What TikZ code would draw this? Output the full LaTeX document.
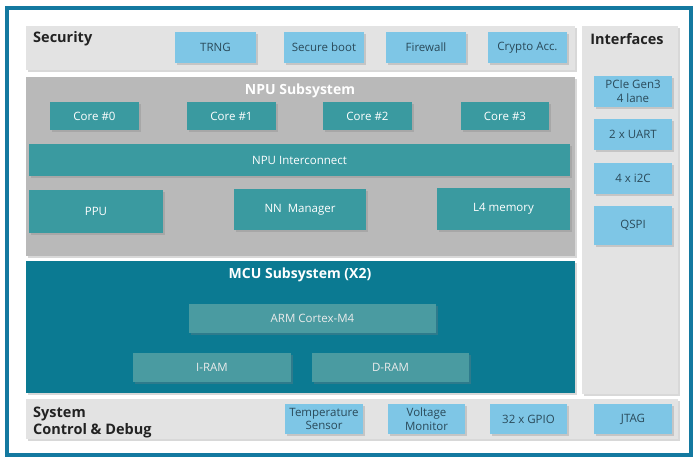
\documentclass[tikz,border=0pt]{standalone}
\usepackage{fontspec}
\setmainfont{Open Sans}
\usetikzlibrary{shadows}
\definecolor{frameblue}{HTML}{1479A0}
\definecolor{panelgray}{HTML}{E3E3E3}
\definecolor{npugray}{HTML}{B9B9B9}
\definecolor{mcuteal}{HTML}{0B7A92}
\definecolor{tealbox}{HTML}{3A9AA0}
\definecolor{mcubox}{HTML}{4A9BA1}
\definecolor{lightblue}{HTML}{7EC6E6}
\definecolor{bluetext}{HTML}{2A4A5A}
\definecolor{titletext}{HTML}{222222}
\tikzset{
  shd/.style={drop shadow={opacity=0.3,shadow xshift=1.5pt,shadow yshift=-1.5pt}},
  panel/.style={rectangle,inner sep=0pt,shd},
  boxfont/.style={font=\fontsize{11.5}{13.5}\selectfont},
  lbbox/.style={rectangle,inner sep=0pt,fill=lightblue,shd,text=bluetext,boxfont,align=center},
  tbox/.style={rectangle,inner sep=0pt,fill=tealbox,shd,text=white,boxfont,align=center},
  mbox/.style={rectangle,inner sep=0pt,fill=mcubox,shd,text=white!92!black,boxfont,align=center},
  ttl/.style={font=\bfseries\fontsize{14.5}{16}\selectfont,text=titletext,inner sep=0pt},
  wttl/.style={font=\bfseries\fontsize{14}{16}\selectfont,text=white,inner sep=0pt},
}
\begin{document}
\begin{tikzpicture}[x=1pt,y=-1pt]
\useasboundingbox (0,0) rectangle (700,461);
\fill[white] (0,0) rectangle (700,461);
% outer frame
\node[rectangle,draw=frameblue,line width=3.5pt,minimum width=684pt,minimum height=447pt,inner sep=0pt] (frame) at (349,231.5) {};
% panels
\node[panel,fill=panelgray,minimum width=549pt,minimum height=44pt] (secp) at (300.5,48) {};
\node[panel,fill=panelgray,minimum width=96pt,minimum height=368pt] (ifp) at (630,210) {};
\node[panel,fill=npugray,minimum width=549pt,minimum height=179pt] (npup) at (300.5,166.5) {};
\node[panel,fill=mcuteal,minimum width=549pt,minimum height=132pt] (mcup) at (300.5,327) {};
\node[panel,fill=panelgray,minimum width=652pt,minimum height=40pt] (sysp) at (352,419) {};
% titles
\node[ttl,anchor=west] (sect) at (33,39) {Security};
\node[ttl] (ift) at (627,39) {Interfaces};
\node[wttl] (nput) at (300,90.5) {NPU Subsystem};
\node[wttl] (mcut) at (300,274.5) {MCU Subsystem (X2)};
\node[ttl,anchor=west,align=left,font=\bfseries\fontsize{14.5}{17}\selectfont] (syst) at (33,422) {System\\Control \& Debug};
% security
\node[lbbox,minimum width=81pt,minimum height=31pt] (trng) at (215.5,47.5) {TRNG};
\node[lbbox,minimum width=80pt,minimum height=31pt] (sboot) at (324,47.5) {Secure boot};
\node[lbbox,minimum width=80pt,minimum height=31pt] (fw) at (426,47.5) {Firewall};
\node[lbbox,minimum width=79pt,minimum height=31pt] (crypto) at (527.5,47.5) {Crypto Acc.};
% interfaces
\node[lbbox,minimum width=78pt,minimum height=31pt] (pcie) at (633,91.5) {PCIe Gen3\\4 lane};
\node[lbbox,minimum width=78pt,minimum height=31pt] (uart) at (633,134.5) {2 x UART};
\node[lbbox,minimum width=78pt,minimum height=31pt] (itc) at (633,178.5) {4 x i2C};
\node[lbbox,minimum width=78pt,minimum height=39pt] (qspi) at (633,225.5) {QSPI};
% NPU
\node[tbox,minimum width=89pt,minimum height=28pt] (c0) at (94.5,116) {Core \#0};
\node[tbox,minimum width=89pt,minimum height=28pt] (c1) at (231.5,116) {Core \#1};
\node[tbox,minimum width=89pt,minimum height=28pt] (c2) at (367.5,116) {Core \#2};
\node[tbox,minimum width=88pt,minimum height=28pt] (c3) at (505,116) {Core \#3};
\node[tbox,minimum width=541pt,minimum height=32pt] (noc) at (299.5,160) {NPU Interconnect};
\node[tbox,minimum width=134pt,minimum height=43pt] (ppu) at (96,211.5) {PPU};
\node[tbox,minimum width=132pt,minimum height=41pt] (nnm) at (300,209.5) {NN~~Manager};
\node[tbox,minimum width=133pt,minimum height=42pt] (l4) at (503.5,209) {L4 memory};
% MCU
\node[mbox,minimum width=247pt,minimum height=29pt] (arm) at (312.5,318.5) {ARM Cortex-M4};
\node[mbox,minimum width=158pt,minimum height=29pt] (iram) at (212,367.5) {I-RAM};
\node[mbox,minimum width=157pt,minimum height=29pt] (dram) at (390.5,367.5) {D-RAM};
% system control
\node[lbbox,minimum width=78pt,minimum height=30pt] (temp) at (324,419) {Temperature\\Sensor};
\node[lbbox,minimum width=77pt,minimum height=30pt] (volt) at (426.5,419) {Voltage\\Monitor};
\node[lbbox,minimum width=77pt,minimum height=30pt] (gpio) at (528.5,419) {32 x GPIO};
\node[lbbox,minimum width=78pt,minimum height=30pt] (jtag) at (633,419) {JTAG};
\end{tikzpicture}
\end{document}
